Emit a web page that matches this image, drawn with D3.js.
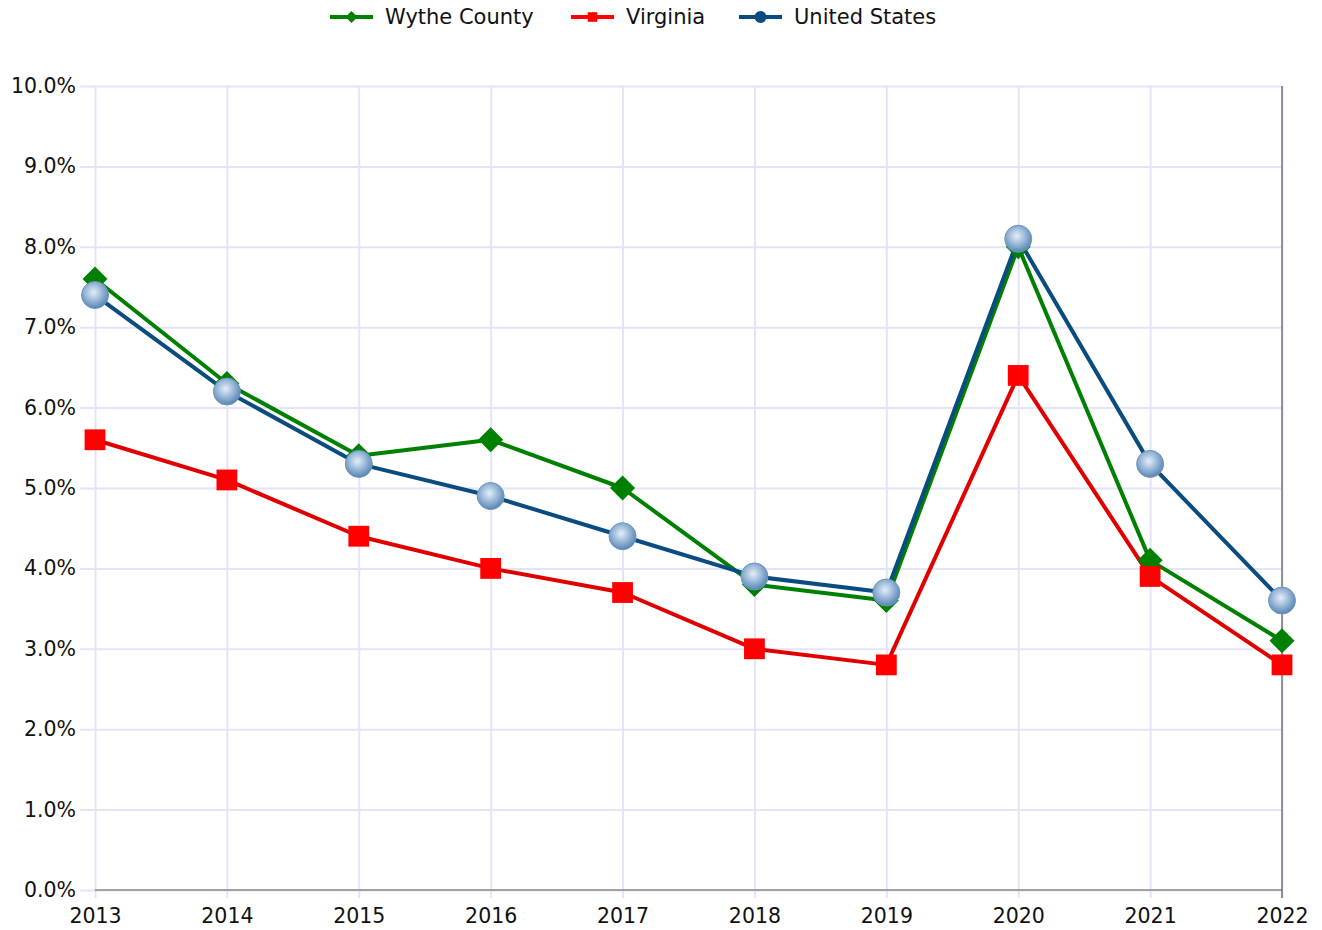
<!DOCTYPE html>
<html lang="en">
<head>
    <meta charset="UTF-8">
    <script src="https://d3js.org/d3.v7.min.js"></script>
    <title>Unemployment Rate</title>
    <style>
        body { margin: 0; background: #fff; }
        svg { font-family: "DejaVu Sans", Verdana, sans-serif; }
    </style>
</head>
<body>
    <div id="chart"></div>
    <script>
        // data
        const years = ["2013", "2014", "2015", "2016", "2017", "2018", "2019", "2020", "2021", "2022"];
        const wythe = [7.6, 6.3, 5.4, 5.6, 5.0, 3.8, 3.6, 8.0, 4.1, 3.1];
        const virginia = [5.6, 5.1, 4.4, 4.0, 3.7, 3.0, 2.8, 6.4, 3.9, 2.8];
        const us = [7.4, 6.2, 5.3, 4.9, 4.4, 3.9, 3.7, 8.1, 5.3, 3.6];
        const yTicks = [0, 1, 2, 3, 4, 5, 6, 7, 8, 9, 10];

        const series = [
            { name: "Wythe County", values: wythe, line: "#008000", fill: "#008000", shape: "diamond" },
            { name: "Virginia", values: virginia, line: "#e00000", fill: "#ff0000", shape: "square" },
            { name: "United States", values: us, line: "#0a4b80", fill: "url(#ball)", shape: "circle" }
        ];

        const W = 1322, H = 930;
        const margin = { top: 86, right: 40, bottom: 40, left: 95 };
        const width = 1282 - margin.left, height = 890 - margin.top;

        const svg = d3.select("#chart").append("svg")
            .attr("width", W).attr("height", H);

        const grad = svg.append("defs").append("radialGradient")
            .attr("id", "ball").attr("cx", "45%").attr("cy", "40%").attr("r", "60%");
        grad.append("stop").attr("offset", "0%").attr("stop-color", "#e4eef9");
        grad.append("stop").attr("offset", "55%").attr("stop-color", "#95b5d6");
        grad.append("stop").attr("offset", "100%").attr("stop-color", "#5684b2");

        const g = svg.append("g").attr("transform", `translate(${margin.left},${margin.top})`);

        const x = d3.scalePoint().domain(years).range([0, width]);
        const y = d3.scaleLinear().domain([0, 10]).range([height, 0]);

        // horizontal grid + y labels
        const yAxis = g.append("g")
            .call(d3.axisLeft(y).tickValues(yTicks).tickSize(15).tickFormat(d => d.toFixed(1) + "%"));
        yAxis.select(".domain").remove();
        yAxis.selectAll(".tick line").attr("x2", width).attr("x1", -15).attr("stroke", "#e4e4f7").attr("stroke-width", 2);
        yAxis.selectAll(".tick text").attr("x", -19).attr("font-size", 20.5).attr("fill", "#111")
            .attr("font-family", "DejaVu Sans, Verdana, sans-serif");

        // vertical grid + x labels
        const xAxis = g.append("g").attr("transform", `translate(0,${height})`)
            .call(d3.axisBottom(x).tickSize(8));
        xAxis.select(".domain").remove();
        xAxis.selectAll(".tick line").attr("y1", -height).attr("y2", 8).attr("stroke", "#e4e4f7").attr("stroke-width", 2);
        xAxis.selectAll(".tick text").attr("y", 18).attr("font-size", 20.5).attr("fill", "#111")
            .attr("font-family", "DejaVu Sans, Verdana, sans-serif");

        // bottom axis line and right border
        g.append("line").attr("x1", 0).attr("x2", width).attr("y1", height).attr("y2", height)
            .attr("stroke", "#8a8a8a").attr("stroke-width", 1.5);
        g.append("line").attr("x1", width).attr("x2", width).attr("y1", 0).attr("y2", height + 8)
            .attr("stroke", "#555566").attr("stroke-width", 1.2);

        const line = d3.line().x((d, i) => x(years[i])).y(d => y(d));

        function marker(sel, shape, s) {
            if (shape === "diamond") {
                sel.append("path").attr("d", `M0,${-s}L${s},0L0,${s}L${-s},0Z`);
            } else if (shape === "square") {
                sel.append("rect").attr("x", -s * 0.8).attr("y", -s * 0.8).attr("width", s * 1.6).attr("height", s * 1.6);
            } else {
                sel.append("circle").attr("r", s);
            }
        }

        series.forEach(sr => {
            g.append("path").datum(sr.values)
                .attr("fill", "none").attr("stroke", sr.line).attr("stroke-width", 4)
                .attr("stroke-linejoin", "round").attr("d", line);
        });
        series.forEach(sr => {
            const pts = g.append("g").selectAll("g").data(sr.values).join("g")
                .attr("transform", (d, i) => `translate(${x(years[i])},${y(d)})`)
                .attr("fill", sr.fill);
            pts.each(function () {
                const s = sr.shape === "diamond" ? 12.5 : sr.shape === "square" ? 13 : 13.5;
                marker(d3.select(this), sr.shape, s);
            });
            if (sr.shape === "circle") pts.selectAll("circle").attr("stroke", "#6f96be").attr("stroke-width", 1);
        });

        // legend
        const legendX = [330, 571, 739];
        const legend = svg.append("g").selectAll("g").data(series).join("g")
            .attr("transform", (d, i) => `translate(${legendX[i]},17)`);
        legend.append("line").attr("x1", 0).attr("x2", 43)
            .attr("stroke", d => d.line === "#e00000" ? "#ff0000" : d.line).attr("stroke-width", 4);
        legend.each(function (d) {
            const m = d3.select(this).append("g").attr("transform", "translate(21.5,0)")
                .attr("fill", d.shape === "circle" ? "#0a4b80" : d.fill);
            marker(m, d.shape, 6);
        });
        legend.append("text").attr("x", 55).attr("dy", "0.35em")
            .attr("font-size", 21).attr("fill", "#111").text(d => d.name);
    </script>
</body>
</html>
